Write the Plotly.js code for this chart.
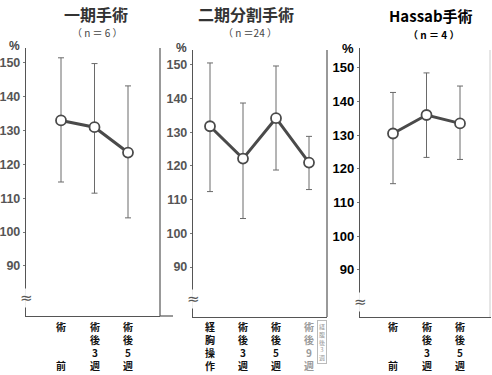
<!DOCTYPE html>
<html>
<head>
<meta charset="utf-8">
<script src="https://cdn.plot.ly/plotly-3.0.1.min.js"></script>
<style>html,body{margin:0;padding:0;background:#fff;}#chart{width:492px;height:375px;}</style>
</head>
<body>
<div id="chart"></div>
<script>
// ---- data ----
const cats1 = ["術前", "術後3週", "術後5週"];
const labels1 = [["術", "", "", "前"], ["術", "後", "3", "週"], ["術", "後", "5", "週"]];
const mean1 = [133, 131, 123.5];
const upper1 = [151.5, 149.8, 143.2];
const lower1 = [114.8, 111.5, 104.2];

const cats2 = ["経胸操作", "術後3週", "術後5週", "術後9週"];
const labels2 = [["経", "胸", "操", "作"], ["術", "後", "3", "週"], ["術", "後", "5", "週"], ["術", "後", "9", "週"]];
const note2 = ["経", "腹", "後", "3", "週"];
const mean2 = [131.8, 122.2, 134.2, 121];
const upper2 = [150.6, 138.7, 149.7, 128.8];
const lower2 = [112.4, 104.4, 118.8, 113];

const cats3 = ["術前", "術後3週", "術後5週"];
const labels3 = [["術", "", "", "前"], ["術", "後", "3", "週"], ["術", "後", "5", "週"]];
const mean3 = [130.5, 136, 133.5];
const upper3 = [142.7, 148.5, 144.6];
const lower3 = [115.6, 123.4, 122.8];

const yTicks = [90, 100, 110, 120, 130, 140, 150];

// ---- helpers ----
function diff(a, b) { return a.map((v, i) => +(v - b[i]).toFixed(2)); }
function trace(cats, mean, upper, lower, n) {
  return {
    type: 'scatter', mode: 'lines+markers',
    x: cats, y: mean,
    xaxis: 'x' + (n === 1 ? '' : n), yaxis: 'y' + (n === 1 ? '' : n),
    line: {color: '#4a4a4a', width: 3},
    marker: {size: 10, color: '#ffffff', line: {color: '#4a4a4a', width: 1.8}},
    error_y: {type: 'data', symmetric: false,
      array: diff(upper, mean), arrayminus: diff(mean, lower),
      color: '#6a6a6a', thickness: 1, width: 3},
    showlegend: false, cliponaxis: false
  };
}
const px = v => v / 492, py = v => 1 - v / 375;

const sans = '"Liberation Sans", Arial, sans-serif';
const cjk = '"Noto Sans CJK JP", "Noto Sans CJK SC", sans-serif';

function xa(dom, range, cats, anchor) {
  return {
    domain: dom, range: range, type: 'category', anchor: anchor,
    categoryarray: cats, categoryorder: 'array',
    showticklabels: false,
    showgrid: false, zeroline: false, showline: true, linecolor: '#555', linewidth: 1.2,
    ticks: '', fixedrange: true
  };
}
function ya(dom, range, anchor, font) {
  return {
    domain: dom, range: range, anchor: anchor,
    tickmode: 'array', tickvals: yTicks, ticktext: yTicks.map(String),
    showgrid: false, zeroline: false, showline: true, linecolor: '#555', linewidth: 1.2,
    ticks: 'outside', ticklen: 2, tickcolor: '#777', tickfont: font,
    fixedrange: true
  };
}

const grayFont = {family: sans, size: 12.5, color: '#555', weight: 'bold'};
const blackFont = {family: sans, size: 13, color: '#000', weight: 'bold'};

const data = [
  trace(cats1, mean1, upper1, lower1, 1),
  trace(cats2, mean2, upper2, lower2, 2),
  trace(cats3, mean3, upper3, lower3, 3)
];

const ann = [];
function txt(x, y, t, font, extra) {
  ann.push(Object.assign({xref: 'paper', yref: 'paper', x: px(x), y: py(y), text: t,
    showarrow: false, font: font, xanchor: 'center', yanchor: 'middle'}, extra || {}));
}
// titles
txt(96, 14, '一期手術', {family: cjk, size: 16, color: '#333', weight: 'bold'});
txt(97, 32, '（ n ＝ 6 ）', {family: cjk, size: 10, color: '#444'});
txt(246, 14, '二期分割手術', {family: cjk, size: 16, color: '#333', weight: 'bold'});
txt(250, 33, '（ n ＝24 ）', {family: cjk, size: 10, color: '#444'});
txt(431, 16, 'Hassab手術', {family: cjk, size: 15, color: '#000', weight: 'bold'});
txt(433, 34, '（ n ＝ 4 ）', {family: cjk, size: 10, color: '#000', weight: 'bold'});
// percent signs
txt(14, 46, '%', {family: sans, size: 12, color: '#444', weight: 'bold'});
txt(181, 48, '%', {family: sans, size: 12, color: '#444', weight: 'bold'});
txt(348, 48, '%', {family: sans, size: 13, color: '#000', weight: 'bold'});
// axis breaks
['y', 'y2', 'y3'].forEach((yr, i) => {
  const xr = ['x', 'x2', 'x3'][i];
  ann.push({xref: xr + ' domain', yref: yr, x: 0, y: 80.6, text: '≈', showarrow: false,
    font: {family: 'DejaVu Sans', size: 15, color: '#555'}, bgcolor: 'rgba(255,255,255,0.9)',
    xanchor: 'center', yanchor: 'middle', borderpad: 0});
});
// stacked vertical category labels (one multi-line text per category)
function stacked(cats, labels, xr, colors) {
  cats.forEach((c, i) => {
    ann.push({xref: xr, yref: 'paper', x: c, y: py(317), text: labels[i].join('<br>'),
      showarrow: false,
      font: {family: cjk, size: 10, color: (colors && colors[i]) || '#111', weight: 'bold'},
      xanchor: 'center', yanchor: 'top'});
  });
}
stacked(cats1, labels1, 'x');
stacked(cats2, labels2, 'x2', [null, null, null, '#9a9a9a']);
stacked(cats3, labels3, 'x3');
// small bracketed note beside 術後9週
ann.push({xref: 'x2', yref: 'paper', x: cats2[3], y: py(320), xshift: 13,
  text: note2.join('<br>'), showarrow: false,
  font: {family: cjk, size: 6, color: '#999'}, xanchor: 'center', yanchor: 'top',
  bordercolor: '#bbb', borderwidth: 1, borderpad: 1});

const line = {color: '#555', width: 1.2};
const shapes = [
  {type: 'line', xref: 'paper', yref: 'paper', x0: px(160), x1: px(160), y0: py(316), y1: py(48), line: line},
  {type: 'line', xref: 'paper', yref: 'paper', x0: px(160), x1: px(173), y0: py(316), y1: py(316), line: line},
  {type: 'line', xref: 'paper', yref: 'paper', x0: px(327), x1: px(327), y0: py(317), y1: py(50), line: line},
  {type: 'line', xref: 'paper', yref: 'paper', x0: px(490), x1: px(490), y0: py(317), y1: py(50), line: {color: '#ccc', width: 1}}
];

const layout = {
  width: 492, height: 375,
  margin: {l: 0, r: 0, t: 0, b: 0},
  paper_bgcolor: '#fff', plot_bgcolor: 'rgba(0,0,0,0)',
  showlegend: false,
  xaxis: xa([px(26), px(160)], [-1.045, 2.955], cats1, 'y'),
  yaxis: ya([py(316), py(48)], [75.2, 154.4], 'x', grayFont),
  xaxis2: xa([px(193), px(327)], [-0.515, 3.545], cats2, 'y2'),
  yaxis2: ya([py(317), py(50)], [75.15, 154.45], 'x2', grayFont),
  xaxis3: xa([px(360), px(491)], [-0.985, 2.925], cats3, 'y3'),
  yaxis3: ya([py(317), py(48)], [76.0, 155.9], 'x3', blackFont),
  annotations: ann,
  shapes: shapes
};

Plotly.newPlot('chart', data, layout, {staticPlot: true, displayModeBar: false});
</script>
</body>
</html>
